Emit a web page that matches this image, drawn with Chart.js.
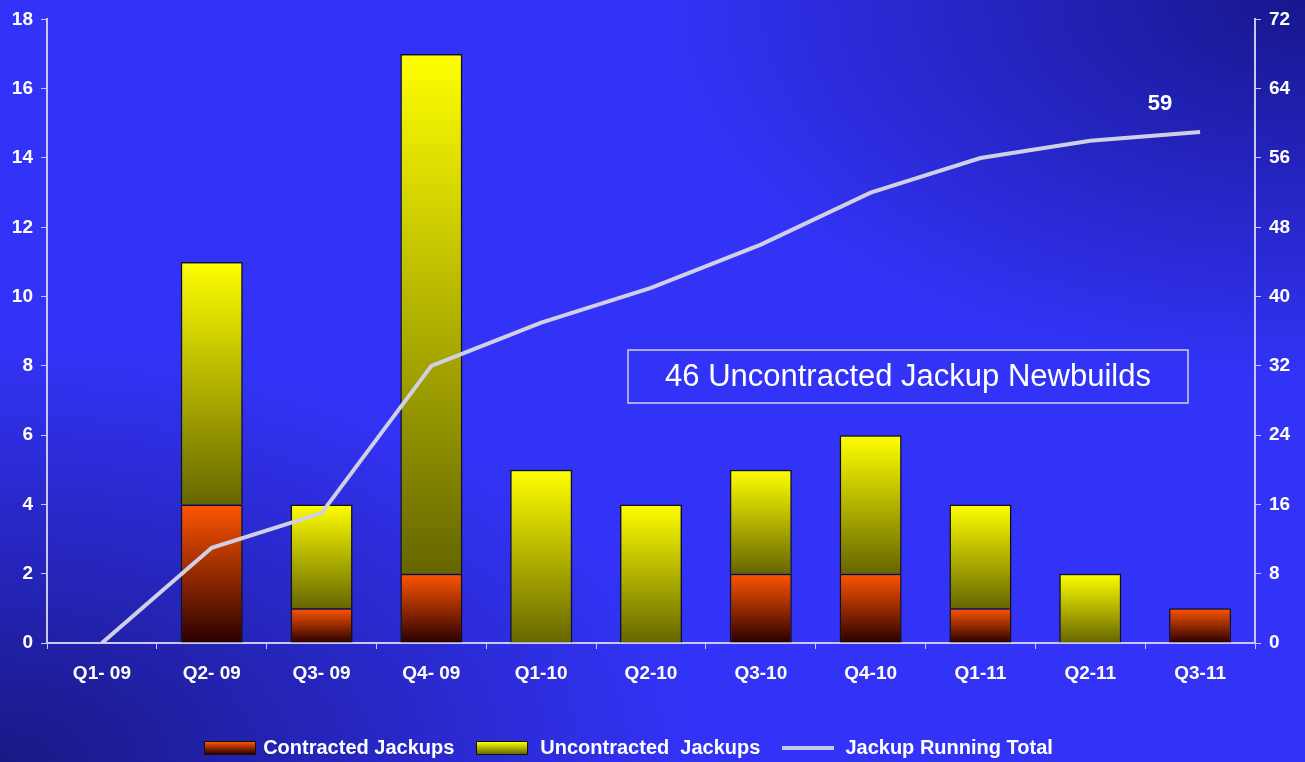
<!DOCTYPE html>
<html>
<head>
<meta charset="utf-8">
<script src="https://cdn.jsdelivr.net/npm/chart.js@4/dist/chart.umd.min.js"></script>
<style>
  html, body { margin: 0; padding: 0; }
  body {
    width: 1305px; height: 762px; overflow: hidden; position: relative;
    background:
      radial-gradient(ellipse 700px 420px at 0% 100%, rgba(22,22,120,0.9), rgba(22,22,120,0) 100%),
      radial-gradient(ellipse 650px 380px at 100% 0%, rgba(20,20,130,0.9), rgba(20,20,130,0) 100%),
      #3333f8;
    font-family: "Liberation Sans", Arial, sans-serif;
  }
  #wrap { position: absolute; left: 0; top: 0; width: 1305px; height: 762px; }
  #legend {
    position: absolute; left: 0; width: 1257px; top: 736px;
    display: flex; justify-content: center; align-items: center;
    color: #fff; font-weight: bold; font-size: 20px;
  }
  #legend .item { display: flex; align-items: center; margin: 0 11px; }
  #legend .sw { width: 50px; height: 12px; border: 1px solid #111; margin-right: 7px; }
  #legend .ln { width: 52px; height: 4px; background: #c8c8e8; margin-right: 11px; }
</style>
</head>
<body>
<div id="wrap"><canvas id="chart" width="1305" height="762"></canvas></div>
<div id="legend">
  <div class="item"><div class="sw" style="background:linear-gradient(#ff5500,#2a0000)"></div>Contracted Jackups</div>
  <div class="item"><div class="sw" style="background:linear-gradient(#ffff00,#666600)"></div><span style="margin-left:5px">Uncontracted&nbsp; Jackups</span></div>
  <div class="item"><div class="ln"></div>Jackup Running Total</div>
</div>
<script>
const quarters = ["Q1- 09", "Q2- 09", "Q3- 09", "Q4- 09", "Q1-10", "Q2-10", "Q3-10", "Q4-10", "Q1-11", "Q2-11", "Q3-11"];
const contracted = [0, 4, 1, 2, 0, 0, 2, 2, 1, 0, 1];
const uncontracted = [0, 7, 3, 15, 5, 4, 3, 4, 3, 2, 0];
const runningTotal = [0, 11, 15, 32, 37, 41, 46, 52, 56, 58, 59];
const leftTicks = [0, 2, 4, 6, 8, 10, 12, 14, 16, 18];
const rightTicks = [0, 8, 16, 24, 32, 40, 48, 56, 64, 72];
const boxText = "46 Uncontracted Jackup Newbuilds";

const axisColor = "#c8c8f0";
const tickFont = { family: "Liberation Sans", size: 19, weight: "bold" };

// vertical gradient over one bar segment, from its own bottom to top
function segGradient(ctx, lo, hi, top, bottom) {
  const chart = ctx.chart;
  const y = chart.scales.y;
  const i = ctx.dataIndex;
  if (!y || i === undefined) return top;
  const y0 = y.getPixelForValue(lo[i]);
  const y1 = y.getPixelForValue(hi[i]);
  if (!isFinite(y0) || !isFinite(y1) || y0 === y1) return top;
  const g = chart.ctx.createLinearGradient(0, y0, 0, y1);
  g.addColorStop(0, bottom);
  g.addColorStop(1, top);
  return g;
}

const contractedTop = contracted.slice();
const unconBase = contracted.slice();
const unconTop = contracted.map((c, i) => c + uncontracted[i]);
const zeros = contracted.map(() => 0);

const extras = {
  id: "extras",
  afterDatasetsDraw(chart) {
    const c = chart.ctx;
    // label on the last running total point
    const meta = chart.getDatasetMeta(2);
    const last = meta.data[meta.data.length - 1];
    c.save();
    c.fillStyle = "#ffffff";
    c.font = "bold 22px 'Liberation Sans'";
    c.textAlign = "center";
    c.textBaseline = "middle";
    c.fillText(String(runningTotal[runningTotal.length - 1]), last.x - 40, last.y - 28);
    // text box
    const bx = 628, by = 350, bw = 560, bh = 53;
    c.strokeStyle = "#d0d0f0";
    c.lineWidth = 1.5;
    c.strokeRect(bx, by, bw, bh);
    c.font = "31px 'Liberation Sans'";
    c.fillText(boxText, bx + bw / 2, by + bh / 2 + 1);
    c.restore();
  }
};

new Chart(document.getElementById("chart"), {
  type: "bar",
  data: {
    labels: quarters,
    datasets: [
      {
        label: "Contracted Jackups",
        data: contracted,
        stack: "s",
        yAxisID: "y",
        order: 2,
        backgroundColor: (ctx) => segGradient(ctx, zeros, contractedTop, "#ff5500", "#2a0000"),
        borderColor: "#111111",
        borderWidth: 1.5,
        barPercentage: 0.565,
        categoryPercentage: 1
      },
      {
        label: "Uncontracted Jackups",
        data: uncontracted,
        stack: "s",
        yAxisID: "y",
        order: 2,
        backgroundColor: (ctx) => segGradient(ctx, unconBase, unconTop, "#ffff00", "#666600"),
        borderColor: "#111111",
        borderWidth: 1.5,
        barPercentage: 0.565,
        categoryPercentage: 1
      },
      {
        type: "line",
        label: "Jackup Running Total",
        data: runningTotal,
        yAxisID: "y2",
        order: 1,
        borderColor: "#cfcfe6",
        borderWidth: 4,
        pointRadius: 0,
        tension: 0,
        borderCapStyle: "butt"
      }
    ]
  },
  options: {
    responsive: false,
    animation: false,
    layout: { padding: { top: 8, bottom: 0, left: 0, right: 0 } },
    plugins: { legend: { display: false }, tooltip: { enabled: false } },
    scales: {
      x: {
        stacked: true,
        offset: true,
        border: { color: axisColor, width: 2 },
        grid: { display: true, drawOnChartArea: false, drawTicks: true, tickLength: 6, color: axisColor, offset: true },
        ticks: { color: "#ffffff", font: tickFont, padding: 13, maxRotation: 0 },
        afterFit: (s) => { s.height = 119; }
      },
      y: {
        stacked: true,
        position: "left",
        min: 0, max: 18,
        afterBuildTicks: (s) => { s.ticks = leftTicks.map((v) => ({ value: v })); },
        border: { color: axisColor, width: 2 },
        grid: { display: true, drawOnChartArea: false, tickLength: 6, color: axisColor },
        ticks: { color: "#ffffff", font: tickFont, padding: 8 },
        afterFit: (s) => { s.width = 47; }
      },
      y2: {
        position: "right",
        min: 0, max: 72,
        afterBuildTicks: (s) => { s.ticks = rightTicks.map((v) => ({ value: v })); },
        border: { color: axisColor, width: 2 },
        grid: { display: true, drawOnChartArea: false, tickLength: 6, color: axisColor },
        ticks: { color: "#ffffff", font: tickFont, padding: 8 },
        afterFit: (s) => { s.width = 50; }
      }
    }
  },
  plugins: [extras]
});
</script>
</body>
</html>
